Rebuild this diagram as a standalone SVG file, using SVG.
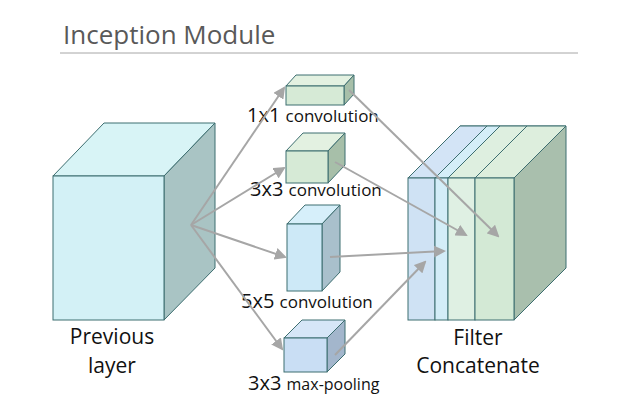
<svg xmlns="http://www.w3.org/2000/svg" width="638" height="413" viewBox="0 0 638 413">
<style>
text{font-family:"Open Sans","Noto Sans","Liberation Sans",sans-serif;fill:#111}
.e{stroke:#3d6e70;stroke-width:1}
.c{stroke:#a6a6a6;stroke-width:2;fill:none;marker-end:url(#a)}
</style>
<defs><marker id="a" markerWidth="6" markerHeight="6" refX="5" refY="3" orient="auto" markerUnits="strokeWidth"><path d="M0,0L6,3L0,6z" fill="#a6a6a6"/></marker></defs>
<rect width="638" height="413" fill="#fff"/>
<text x="63" y="44" font-size="26" style="fill:#595959">Inception Module</text>
<line x1="60" y1="53" x2="578" y2="53" stroke="#a6a6a6"/>
<g id="prev">
<polygon class="e" points="53,176 104,123 215,123 164,176" fill="#d8f4f6"/>
<polygon class="e" points="164,176 215,123 215,268 164,320" fill="#a9c4c4"/>
<rect class="e" x="53" y="176" width="111" height="144" fill="#d3f1f6"/>
<text x="112" y="344" font-size="21" text-anchor="middle">Previous</text>
<text x="112" y="373" font-size="21" text-anchor="middle">layer</text>
</g>
<g id="c1">
<polygon class="e" points="286,86 296,75 354,75 344,86" fill="#e3f1e1"/>
<polygon class="e" points="344,86 354,75 354,94 344,105" fill="#a7bfa9"/>
<rect class="e" x="286" y="86" width="58" height="19" fill="#d6ead6"/>
<text x="247" y="122" font-size="20">1x1 <tspan font-size="17">convolution</tspan></text>
</g>
<g id="c3">
<polygon class="e" points="286,151 303,133 345,133 328,151" fill="#e3f1e1"/>
<polygon class="e" points="328,151 345,133 345,165 328,183" fill="#a7bfa9"/>
<rect class="e" x="286" y="151" width="42" height="32" fill="#d6ead6"/>
<text x="250" y="196" font-size="20">3x3 <tspan font-size="17">convolution</tspan></text>
</g>
<g id="c5">
<polygon class="e" points="287,224 305,205 340,205 322,224" fill="#d6effa"/>
<polygon class="e" points="322,224 340,205 340,272 322,291" fill="#a9c0cc"/>
<rect class="e" x="287" y="224" width="35" height="67" fill="#cde9f7"/>
<text x="241" y="308" font-size="20">5x5 <tspan font-size="17">convolution</tspan></text>
</g>
<g id="mp">
<polygon class="e" points="284,338 302,320 345,320 327,338" fill="#d6e6f7"/>
<polygon class="e" points="327,338 345,320 345,354 327,372" fill="#a3b6cc"/>
<rect class="e" x="284" y="338" width="43" height="34" fill="#c9def4"/>
<text x="248" y="390" font-size="20">3x3 <tspan font-size="16">max-pooling</tspan></text>
</g>
<g id="concat">
<polygon class="e" points="408,178 460,126 566,126 514,178" fill="#dcebf5"/>
<polygon class="e" points="408,178 460,126 487,126 435,178" fill="#d3e4f6"/>
<polygon class="e" points="435,178 487,126 500,126 448,178" fill="#d4eef8"/>
<polygon class="e" points="448,178 500,126 527,126 475,178" fill="#deefe0"/>
<polygon class="e" points="475,178 527,126 566,126 514,178" fill="#ddeedd"/>
<polygon class="e" points="514,178 566,126 566,268 514,320" fill="#a9bfad"/>
<rect class="e" x="408" y="178" width="27" height="142" fill="#cfe2f4"/>
<rect class="e" x="435" y="178" width="13" height="142" fill="#d3edf8"/>
<rect class="e" x="448" y="178" width="27" height="142" fill="#dff0e3"/>
<rect class="e" x="475" y="178" width="39" height="142" fill="#d3e9d5"/>
<text x="478" y="345" font-size="21" text-anchor="middle">Filter</text>
<text x="478" y="373" font-size="21" text-anchor="middle">Concatenate</text>
</g>
<g id="connectors">
<path class="c" d="M191,225L284,88"/>
<path class="c" d="M191,225L284,168"/>
<path class="c" d="M191,225L285,257"/>
<path class="c" d="M191,225L282,349"/>
<path class="c" d="M349,90L498,236"/>
<path class="c" d="M335,162L466,235"/>
<path class="c" d="M330,257L444,251"/>
<path class="c" d="M335,355L425,262"/>
</g>
</svg>
